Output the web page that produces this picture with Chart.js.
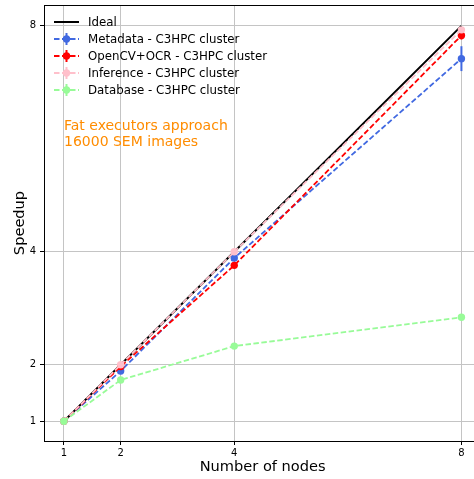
<!DOCTYPE html>
<html>
<head>
<meta charset="utf-8">
<script src="https://cdn.jsdelivr.net/npm/chart.js@4/dist/chart.umd.min.js"></script>
<style>
  html, body { margin: 0; padding: 0; background: #fff; overflow: hidden; }
  #wrap { width: 474px; height: 479px; position: relative; overflow: hidden; }
  #c { display: block; }
</style>
</head>
<body>
<div id="wrap"><canvas id="c" width="485" height="479"></canvas></div>
<script>
// ---- data ----
const nodes = [1, 2, 4, 8];
const xTicks = [1, 2, 4, 8];
const yTicks = [1, 2, 4, 8];
const ideal = [1, 2, 4, 8];
const metadata = [1, 1.89, 3.89, 7.42];
const metadataErr = [0, 0.02, 0.03, 0.22];
const opencv = [1, 1.97, 3.76, 7.83];
const opencvErr = [0, 0.02, 0.04, 0.07];
const inference = [1, 2.0, 4.0, 7.93];
const inferenceErr = [0, 0, 0, 0];
const database = [1, 1.73, 2.33, 2.84];
const databaseErr = [0, 0, 0, 0];
const seriesLabels = ['Ideal', 'Metadata - C3HPC cluster', 'OpenCV+OCR - C3HPC cluster', 'Inference - C3HPC cluster', 'Database - C3HPC cluster'];
const annotationLines = ['Fat executors approach', '16000 SEM images'];
const xTitle = 'Number of nodes';
const yTitle = 'Speedup';

const FONT = '"DejaVu Sans", sans-serif';
const DASH = [5.5, 2.5];
const pts = (arr) => nodes.map((x, i) => ({x: x, y: arr[i]}));

function series(label, vals, errs, color, order) {
  return {
    label: label, data: pts(vals), errors: errs,
    borderColor: color, backgroundColor: color,
    borderWidth: 1.8, borderDash: DASH,
    pointRadius: 3.7, pointHoverRadius: 3.7, pointBorderWidth: 0,
    pointBackgroundColor: color, tension: 0, order: order, fill: false
  };
}

const datasets = [
  { label: seriesLabels[0], data: pts(ideal), borderColor: '#000', backgroundColor: '#000',
    borderWidth: 2, pointRadius: 0, pointHoverRadius: 0, order: 5, fill: false, isIdeal: true },
  series(seriesLabels[1], metadata, metadataErr, '#4169e1', 4),
  series(seriesLabels[2], opencv, opencvErr, '#ff0000', 3),
  series(seriesLabels[3], inference, inferenceErr, '#ffc0cb', 2),
  series(seriesLabels[4], database, databaseErr, '#98fb98', 1)
];

const errorBars = {
  id: 'errorBars',
  beforeDatasetDraw(chart, args) {
    const ds = chart.data.datasets[args.index];
    if (!ds.errors) return;
    const {ctx, scales: {x, y}} = chart;
    ctx.save();
    ctx.strokeStyle = ds.borderColor;
    ctx.lineWidth = 2;
    ds.data.forEach((p, i) => {
      const e = ds.errors[i];
      if (!e) return;
      const px = x.getPixelForValue(p.x);
      ctx.beginPath();
      ctx.moveTo(px, y.getPixelForValue(p.y - e));
      ctx.lineTo(px, y.getPixelForValue(p.y + e));
      ctx.stroke();
    });
    ctx.restore();
  }
};

const decor = {
  id: 'decor',
  afterDraw(chart) {
    const {ctx, chartArea: a} = chart;
    ctx.save();
    // top and right spines
    ctx.strokeStyle = '#000';
    ctx.lineWidth = 1;
    ctx.beginPath();
    ctx.moveTo(a.left, a.top + 0.5);
    ctx.lineTo(a.right, a.top + 0.5);
    ctx.lineTo(a.right, a.bottom);
    ctx.stroke();
    // legend
    const x0 = 54, x1 = 79, tx = 88, y0 = 22, dy = 17;
    ctx.font = '11.8px ' + FONT;
    ctx.textBaseline = 'middle';
    chart.data.datasets.forEach((ds, i) => {
      const yy = y0 + i * dy;
      ctx.strokeStyle = ds.borderColor;
      ctx.lineWidth = ds.borderWidth;
      ctx.setLineDash(ds.borderDash || []);
      ctx.beginPath();
      ctx.moveTo(x0, yy);
      ctx.lineTo(x1, yy);
      ctx.stroke();
      ctx.setLineDash([]);
      if (!ds.isIdeal) {
        const cx = (x0 + x1) / 2;
        ctx.lineWidth = 2;
        ctx.beginPath();
        ctx.moveTo(cx, yy - 6);
        ctx.lineTo(cx, yy + 6);
        ctx.stroke();
        ctx.fillStyle = ds.borderColor;
        ctx.beginPath();
        ctx.arc(cx, yy, 3.7, 0, Math.PI * 2);
        ctx.fill();
      }
      ctx.fillStyle = '#000';
      ctx.fillText(ds.label, tx, yy + 0.5);
    });
    // annotation
    ctx.fillStyle = '#ff8c00';
    ctx.font = '14px ' + FONT;
    annotationLines.forEach((t, i) => ctx.fillText(t, 64, 126 + i * 16.5));
    ctx.restore();
  }
};

new Chart(document.getElementById('c'), {
  type: 'line',
  data: { datasets: datasets },
  options: {
    responsive: false,
    animation: false,
    events: [],
    layout: { padding: { top: 5, right: 0, left: 0, bottom: 0 } },
    plugins: { legend: { display: false }, tooltip: { enabled: false } },
    scales: {
      x: {
        type: 'linear', position: 'bottom', min: 0.65, max: 8.35,
        afterBuildTicks: (s) => { s.ticks = xTicks.map(v => ({value: v})); },
        afterFit: (s) => { s.height = 38; s.paddingLeft = 0; s.paddingRight = 0; },
        ticks: { color: '#000', font: { family: FONT, size: 10 }, padding: 2, maxRotation: 0,
                 callback: (v) => String(v) },
        grid: { color: '#c4c4c4', lineWidth: 1, tickColor: '#000', tickLength: 4, drawTicks: true },
        border: { color: '#000', width: 1 },
        title: { display: true, text: xTitle, color: '#000', font: { family: FONT, size: 14.6 }, padding: { top: 0, bottom: 3 } }
      },
      y: {
        type: 'linear', position: 'left', min: 0.65, max: 8.37,
        afterBuildTicks: (s) => { s.ticks = yTicks.map(v => ({value: v})); },
        afterFit: (s) => { s.width = 44; s.paddingTop = 0; s.paddingBottom = 0; },
        ticks: { color: '#000', font: { family: FONT, size: 10 }, padding: 4,
                 callback: (v) => String(v) },
        grid: { color: '#c4c4c4', lineWidth: 1, tickColor: '#000', tickLength: 4, drawTicks: true },
        border: { color: '#000', width: 1 },
        title: { display: true, text: yTitle, color: '#000', font: { family: FONT, size: 14.6 }, padding: { top: 11, bottom: 0 } }
      }
    }
  },
  plugins: [errorBars, decor]
});
</script>
</body>
</html>
